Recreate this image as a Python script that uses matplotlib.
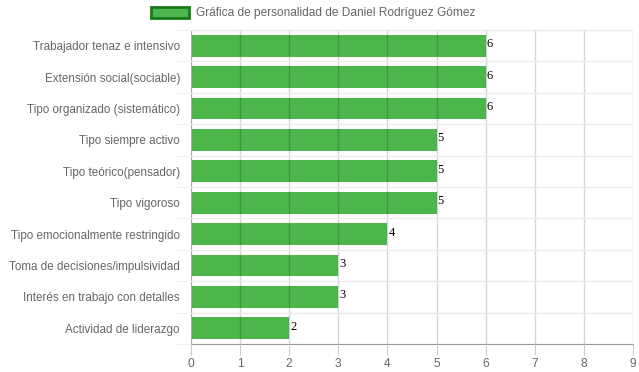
import matplotlib.pyplot as plt
import numpy as np

categories = ['Trabajador tenaz e intensivo', 'Extensión social(sociable)',
              'Tipo organizado (sistemático)', 'Tipo siempre activo',
              'Tipo teórico(pensador)', 'Tipo vigoroso',
              'Tipo emocionalmente restringido', 'Toma de decisiones/impulsividad',
              'Interés en trabajo con detalles', 'Actividad de liderazgo']
values = [6, 6, 6, 5, 5, 5, 4, 3, 3, 2]
series_label = 'Gráfica de personalidad de Daniel Rodríguez Gómez'

plt.rcParams['font.family'] = ['Liberation Sans', 'DejaVu Sans']

fig = plt.figure(figsize=(6.39, 3.72), dpi=100)
ax = fig.add_axes([191 / 639, 1 - 344 / 372, (633 - 191) / 639, (344 - 30) / 372])

y = np.arange(len(categories))
ax.barh(y, values, height=0.7, color='#4cb54c', label=series_label, zorder=1)

# value labels at the bar ends
for yi, v in zip(y, values):
    ax.text(v + 0.02, yi - 0.05, str(v), va='center', ha='left', fontsize=9,
            family='Liberation Serif', color='black', zorder=4)

ax.set_xlim(0, 9)
ax.set_ylim(len(categories) - 0.5, -0.5)
ax.set_xticks(range(10))
ax.set_yticks(y)
ax.set_yticklabels(categories)
ax.set_yticks(np.arange(-0.5, len(categories), 1), minor=True)

ax.grid(axis='x', color='black', alpha=0.17, linewidth=1, zorder=3)
ax.grid(axis='y', which='minor', color='#ebebeb', linewidth=1, zorder=0)
ax.set_axisbelow(False)

ax.tick_params(axis='y', which='major', length=0, pad=8, labelsize=8.4, labelcolor='#666666')
ax.tick_params(axis='y', which='minor', length=10, color='#ebebeb')
ax.tick_params(axis='x', length=8, color='#cccccc', labelsize=8.6, labelcolor='#666666', pad=2)

for s in ['top', 'right']:
    ax.spines[s].set_visible(False)
ax.spines['bottom'].set_color('#999999')
ax.spines['left'].set_color('#cccccc')

leg = fig.legend(handles=[plt.Rectangle((0, 0), 1, 1, facecolor='#4cb54c', edgecolor='#1a7a1a', linewidth=2)],
                 labels=[series_label], loc='upper center', bbox_to_anchor=(0.49, 1.01),
                 frameon=False, fontsize=8.6, handlelength=3.2, handleheight=1.0,
                 handletextpad=0.6)
for t in leg.get_texts():
    t.set_color('#666666')

fig.savefig('out.png', dpi=100)
